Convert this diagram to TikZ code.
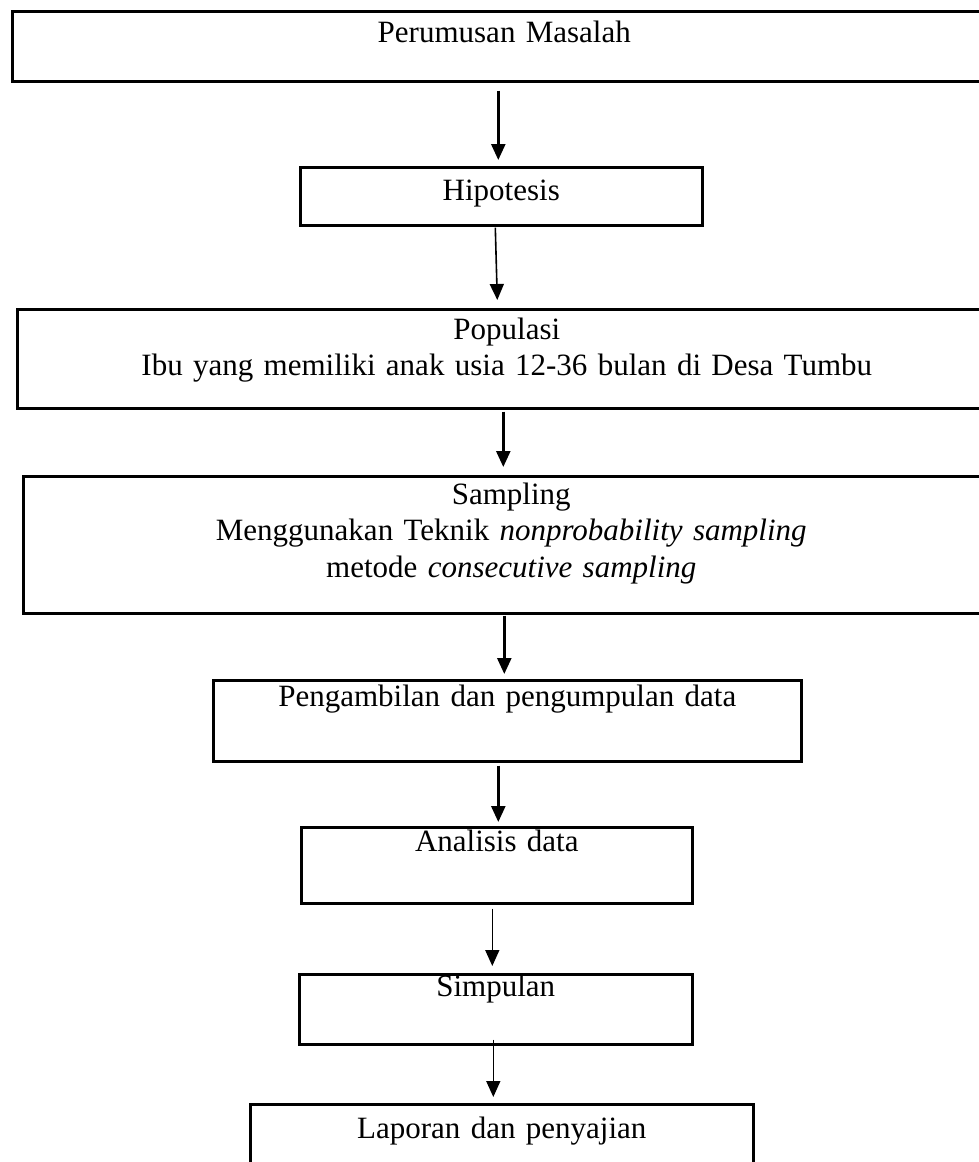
\documentclass[tikz,border=0pt]{standalone}
\usepackage{fontspec}
\setmainfont{Liberation Serif}
\usetikzlibrary{arrows.meta, positioning}
\tikzstyle{kotak} = [draw=black, line width=2.6pt, rectangle, inner sep=0pt, anchor=north west, align=center, font=\fontsize{31}{36.5}\selectfont]
\tikzstyle{panah} = [-{Triangle[length=16pt,width=14pt]}, line width=2.5pt]
\tikzstyle{panahtipis} = [-{Triangle[length=16pt,width=14pt]}, line width=1.6pt]

\begin{document}
\begin{tikzpicture}[x=1pt,y=-1pt]
	\useasboundingbox (0,0) rectangle (979,1162);
	\node [kotak, text width=984pt, text height=31pt, text depth=39pt] (rumusan) at (11,10) {Perumusan Masalah};
	\node [kotak, text width=402pt, text height=33pt, text depth=25pt] (hipotesis) at (299,166) {Hipotesis};
	\node [kotak, text width=979pt, text height=30pt, text depth=69pt] (populasi) at (16,308) {Populasi\\Ibu yang memiliki anak usia 12-36 bulan di Desa Tumbu};
	\node [kotak, text width=976pt, text height=28pt, text depth=109pt] (sampling) at (22,475) {Sampling\\Menggunakan Teknik \textit{nonprobability sampling}\\metode \textit{consecutive sampling}};
	\node [kotak, text width=588pt, text height=26pt, text depth=55pt] (pengambilan) at (212,679) {Pengambilan dan pengumpulan data};
	\node [kotak, text width=391pt, text height=24pt, text depth=52pt] (analisis) at (300,826) {Analisis data};
	\node [kotak, text width=393pt, text height=22pt, text depth=48pt] (simpulan) at (298,973) {Simpulan};
	\node [kotak, text width=503pt, text height=34pt, text depth=46pt] (laporan) at (249,1103) {Laporan dan penyajian};

	\draw [panah] ([xshift=-6pt,yshift=-8pt]rumusan.south) -- ([xshift=-3pt,yshift=6pt]hipotesis.north);
	\draw [panahtipis] ([xshift=-6pt,yshift=-1pt]hipotesis.south) -- ([xshift=-9.5pt,yshift=8pt]populasi.north);
	\draw [panah] ([xshift=-3.5pt,yshift=-2pt]populasi.south) -- ([xshift=-8pt,yshift=8pt]sampling.north);
	\draw [panah] ([xshift=-7pt,yshift=-1pt]sampling.south) -- ([xshift=-3pt,yshift=5pt]pengambilan.north);
	\draw [panah] ([xshift=-9pt,yshift=-3pt]pengambilan.south) -- ([xshift=1.5pt,yshift=4pt]analisis.north);
	\draw [panahtipis] ([xshift=-4.5pt,yshift=-4pt]analisis.south) -- ([xshift=-3.5pt,yshift=7pt]simpulan.north);
	\draw [panahtipis] ([xshift=-2.5pt,yshift=6pt]simpulan.south) -- ([xshift=-8.5pt,yshift=6pt]laporan.north);
\end{tikzpicture}
\end{document}
